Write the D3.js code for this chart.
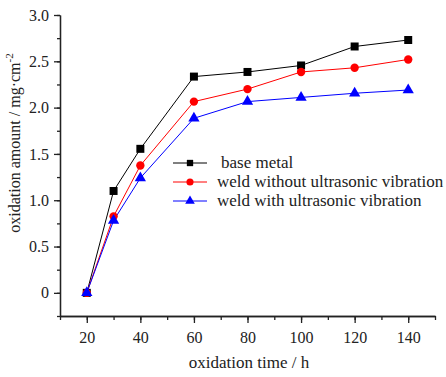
<!DOCTYPE html>
<html>
<head>
    <script src="https://d3js.org/d3.v7.min.js"></script>
    <style>
        body { margin: 0; background: #fff; }
    </style>
</head>
<body>
    <div id="container"></div>
    <script>
        const width = 446;
        const height = 377;

        const hours = [20, 30, 40, 60, 80, 100, 120, 140];
        const baseMetal = [0, 1.10, 1.555, 2.335, 2.385, 2.455, 2.66, 2.73];
        const weldNoUltra = [0, 0.826, 1.375, 2.065, 2.20, 2.385, 2.43, 2.52];
        const weldUltra = [0, 0.78, 1.24, 1.885, 2.065, 2.11, 2.155, 2.19];
        const seriesNames = ["base metal", "weld without ultrasonic vibration", "weld with ultrasonic vibration"];
        const xTicks = [20, 40, 60, 80, 100, 120, 140];
        const yTicks = [0, 0.5, 1.0, 1.5, 2.0, 2.5, 3.0];

        const x = d3.scaleLinear().domain([10, 150]).range([60, 435]);
        const y = d3.scaleLinear().domain([-0.25, 3.0]).range([316, 15]);

        const svg = d3.select("#container").append("svg")
            .attr("width", width)
            .attr("height", height);

        // x axis: minor ticks then major ticks with labels
        svg.append("g")
            .attr("transform", "translate(0,316)")
            .call(d3.axisBottom(x).tickValues(d3.range(10, 151, 10)).tickSize(4).tickFormat("").tickSizeOuter(0));
        svg.append("g")
            .attr("transform", "translate(0,316)")
            .call(d3.axisBottom(x).tickValues(xTicks).tickSize(7).tickPadding(9).tickSizeOuter(0));

        // y axis
        svg.append("g")
            .attr("transform", "translate(60,0)")
            .call(d3.axisLeft(y).tickValues(d3.range(-0.25, 3.01, 0.25)).tickSize(3).tickFormat("").tickSizeOuter(0));
        svg.append("g")
            .attr("transform", "translate(60,0)")
            .call(d3.axisLeft(y).tickValues(yTicks).tickSize(6).tickPadding(5).tickSizeOuter(0)
                .tickFormat(d => d === 0 ? "0" : d3.format(".1f")(d)));

        svg.selectAll(".domain, .tick line").attr("stroke", "#222").attr("stroke-width", 1.3);

        // axis titles
        svg.append("text")
            .attr("x", 249)
            .attr("y", 368)
            .attr("text-anchor", "middle")
            .style("font-size", "17px")
            .text("oxidation time / h");

        const yTitle = svg.append("text")
            .attr("transform", "translate(20,143) rotate(-90)")
            .attr("text-anchor", "middle")
            .style("font-size", "16px");
        yTitle.append("tspan").text("oxidation amount / mg\u00b7cm");
        yTitle.append("tspan").attr("dy", -7).style("font-size", "11px").text("-2");

        const series = [
            { name: seriesNames[0], values: baseMetal, color: "#000000", shape: d3.symbolSquare, size: 64 },
            { name: seriesNames[1], values: weldNoUltra, color: "#ff0000", shape: d3.symbolCircle, size: 55 },
            { name: seriesNames[2], values: weldUltra, color: "#0000ff", shape: d3.symbolTriangle, size: 55 }
        ];

        const line = d3.line()
            .x((d, i) => x(hours[i]))
            .y(d => y(d));

        series.forEach(s => {
            svg.append("path")
                .datum(s.values)
                .attr("fill", "none")
                .attr("stroke", s.color)
                .attr("stroke-width", 1)
                .attr("d", line);
        });

        series.forEach(s => {
            svg.selectAll(null)
                .data(s.values)
                .enter().append("path")
                .attr("d", d3.symbol().type(s.shape).size(s.size))
                .attr("transform", (d, i) => `translate(${x(hours[i])},${y(d)})`)
                .attr("fill", s.color);
        });

        // legend
        series.forEach((s, i) => {
            const ly = 163 + i * 19;
            svg.append("line")
                .attr("x1", 173).attr("x2", 207)
                .attr("y1", ly).attr("y2", ly)
                .attr("stroke", s.color).attr("stroke-width", 1);
            svg.append("path")
                .attr("d", d3.symbol().type(s.shape).size(40))
                .attr("transform", `translate(190,${ly})`)
                .attr("fill", s.color);
            svg.append("text")
                .attr("x", i === 0 ? 221 : 217)
                .attr("y", ly + 5)
                .style("font-size", "17px")
                .text(s.name);
        });

        // serif text everywhere, as in the reference
        svg.selectAll("g").attr("font-family", null).attr("font-size", null);
        svg.selectAll("text")
            .style("font-family", "'Liberation Serif'")
            .style("fill", "#222");
        svg.selectAll(".tick text").style("font-size", "16px");
    </script>
</body>
</html>
